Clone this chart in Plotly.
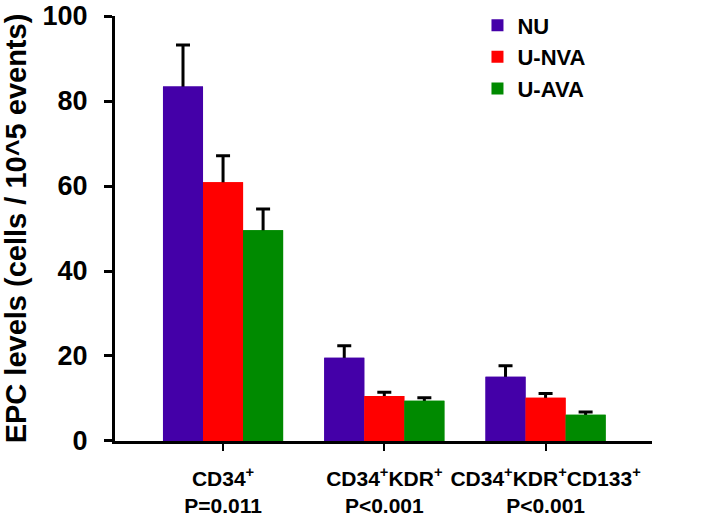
import plotly.graph_objects as go

categories = ["CD34<sup>+</sup>",
              "CD34<sup>+</sup>KDR<sup>+</sup>",
              "CD34<sup>+</sup>KDR<sup>+</sup>CD133<sup>+</sup>"]
p_values = ["P=0.011", "P<0.001", "P<0.001"]
series_names = ["NU", "U-NVA", "U-AVA"]
nu_values = [83.4, 19.6, 15.1]
nu_err = [9.8, 2.8, 2.6]
unva_values = [60.9, 10.6, 10.2]
unva_err = [6.2, 0.9, 1.0]
uava_values = [49.6, 9.5, 6.2]
uava_err = [5.0, 0.7, 0.6]
colors = ["#4400A8", "#FF0000", "#008A00"]
y_ticks = [0, 20, 40, 60, 80, 100]

all_values = [nu_values, unva_values, uava_values]
all_errs = [nu_err, unva_err, uava_err]

fig = go.Figure()
for name, vals, errs, col in zip(series_names, all_values, all_errs, colors):
    fig.add_trace(go.Bar(
        x=categories, y=vals, name=name,
        marker=dict(color=col, line=dict(width=0)),
        error_y=dict(type="data", array=errs,
                     arrayminus=[0.6] * len(errs),
                     symmetric=False, color="black", thickness=3, width=7),
    ))
# same bars again on an overlaid axis, hiding the lower error caps
for name, vals, col in zip(series_names, all_values, colors):
    fig.add_trace(go.Bar(
        x=categories, y=vals, name=name, showlegend=False,
        marker=dict(color=col, line=dict(width=0)),
        xaxis="x2", hoverinfo="skip",
    ))

font_family = "Liberation Sans, Arial, sans-serif"
bold = dict(family=font_family, color="black", weight="bold")
fig.update_layout(
    width=719, height=518,
    margin=dict(l=115, r=67, t=0, b=77),
    plot_bgcolor="white", paper_bgcolor="white",
    barmode="group", bargap=0.255, bargroupgap=0,
    font=dict(family=font_family, color="black"),
    legend=dict(x=0.675, y=0.99, xanchor="left", yanchor="top",
                font=dict(size=22, **bold),
                bgcolor="rgba(0,0,0,0)", tracegroupgap=0, itemwidth=30),
    showlegend=True,
    xaxis=dict(
        range=[-0.67, 2.66], showline=True, linecolor="black", linewidth=3,
        ticks="outside", ticklen=7, tickwidth=2, tickcolor="black",
        ticklabelstandoff=10,
        tickfont=dict(size=21, **bold), tickangle=0,
        showgrid=False, zeroline=False, automargin=False,
    ),
    xaxis2=dict(
        overlaying="x", matches="x", anchor="y", side="bottom",
        showline=False, showgrid=False, zeroline=False, automargin=False,
        tickmode="array", tickvals=categories, ticktext=p_values,
        ticks="outside", ticklen=46, tickcolor="rgba(0,0,0,0)",
        tickfont=dict(size=21, **bold), tickangle=0,
    ),
    yaxis=dict(
        domain=[0, 0.9637],
        range=[0, 100], tickvals=y_ticks,
        showline=True, linecolor="black", linewidth=3,
        ticks="outside", ticklen=8, tickwidth=3, tickcolor="black",
        ticklabelstandoff=11, ticklabeloverflow="allow",
        tickfont=dict(size=27, **bold),
        title=dict(text="EPC levels (cells / 10^5 events)",
                   font=dict(size=29, **bold), standoff=22),
        showgrid=False, zeroline=False, automargin=False,
    ),
)

fig.write_html("out.html", config={"displayModeBar": False},
               post_script="document.body.style.margin='0px';")
